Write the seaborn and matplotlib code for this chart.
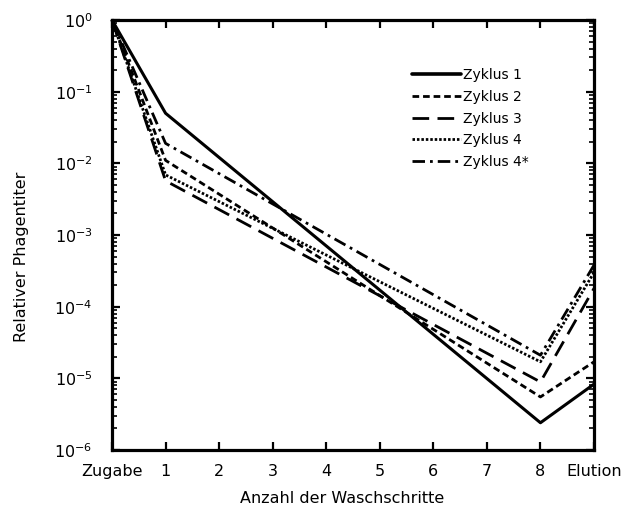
import numpy as np
import pandas as pd
import matplotlib
matplotlib.use("Agg")
import matplotlib.pyplot as plt
from matplotlib.lines import Line2D
from matplotlib.ticker import LogLocator, LogFormatterMathtext, FixedLocator, NullLocator
import seaborn as sns

# ---- data ----
tick_labels = ["Zugabe", "1", "2", "3", "4", "5", "6", "7", "8", "Elution"]
step_pos = [0, 1, 8, 9]
zyklus_1 = [1.0, 0.050, 2.4e-6, 8.3e-6]
zyklus_2 = [1.0, 0.011, 5.5e-6, 1.7e-5]
zyklus_3 = [1.0, 0.0057, 8.9e-6, 1.8e-4]
zyklus_4 = [1.0, 0.0069, 1.7e-5, 3.0e-4]
zyklus_4s = [1.0, 0.019, 2.1e-5, 3.8e-4]
series_names = ["Zyklus 1", "Zyklus 2", "Zyklus 3", "Zyklus 4", "Zyklus 4*"]
series_values = [zyklus_1, zyklus_2, zyklus_3, zyklus_4, zyklus_4s]

sns.set_style("ticks")
plt.rcParams["font.family"] = ["DejaVu Sans"]
plt.rcParams["mathtext.fontset"] = "dejavusans"
for k in ["text.color", "axes.labelcolor", "xtick.color", "ytick.color"]:
    plt.rcParams[k] = "black"

fig = plt.figure(figsize=(6.22, 5.13), dpi=100)
ax = fig.add_axes([112 / 622, 1 - 450 / 513, (594 - 112) / 622, (450 - 20) / 513])

styles = [
    dict(lw=2.2, dashes=None),
    dict(lw=2.0, dashes=(2.4, 1.4)),
    dict(lw=2.0, dashes=(6.0, 3.0)),
    dict(lw=2.0, dashes=(0.9, 0.7)),
    dict(lw=2.0, dashes=(4.5, 1.8, 1.0, 1.8)),
]

handles = []
for name, vals, st in zip(series_names, series_values, styles):
    df = pd.DataFrame({"x": step_pos, "y": vals})
    sns.lineplot(data=df, x="x", y="y", ax=ax, color="black", lw=st["lw"],
                 legend=False, clip_on=False)
    line = ax.lines[-1]
    line.set_solid_capstyle("butt")
    line.set_dash_capstyle("butt")
    if st["dashes"] is not None:
        line.set_dashes(st["dashes"])
    h = Line2D([0], [0], color="black", lw=st["lw"] + (0.4 if st["dashes"] is None else 0))
    if st["dashes"] is not None:
        h.set_dashes(st["dashes"])
    handles.append(h)

ax.set_yscale("log")
ax.set_ylim(1e-6, 1)
ax.set_xlim(0, 9)
ax.xaxis.set_major_locator(FixedLocator(list(range(10))))
ax.set_xticklabels(tick_labels)
ax.xaxis.set_minor_locator(NullLocator())
ax.yaxis.set_major_locator(LogLocator(base=10, numticks=10))
ax.yaxis.set_minor_locator(LogLocator(base=10, subs=np.arange(2, 10), numticks=20))
ax.yaxis.set_major_formatter(LogFormatterMathtext())

for s in ax.spines.values():
    s.set_visible(True)
    s.set_linewidth(2.3)
    s.set_color("black")

ax.tick_params(axis="both", which="major", direction="in", length=6, width=1.6,
               top=True, right=True, labelsize=11.5, colors="black")
ax.tick_params(axis="y", which="minor", direction="in", length=3.5, width=1.2,
               left=True, right=True)
ax.tick_params(axis="x", which="major", pad=10)
ax.tick_params(axis="y", which="major", pad=14)

ax.set_xlabel("Anzahl der Waschschritte", fontsize=11.5, color="black")
ax.set_ylabel("Relativer Phagentiter", fontsize=11.5, color="black")
ax.xaxis.set_label_coords((342 - 112) / (594 - 112), -0.095)
ax.yaxis.set_label_coords(-0.172, 1 - (257 - 20) / 430)

leg = ax.legend(handles, series_names, loc="upper left",
                bbox_to_anchor=(412 / 622, 1 - 68 / 513), bbox_transform=fig.transFigure,
                frameon=False, fontsize=10, handlelength=3.5, handletextpad=0.15,
                labelspacing=0.56, borderpad=0, borderaxespad=0)
for t in leg.get_texts():
    t.set_color("black")

fig.savefig("out.png", dpi=100)
